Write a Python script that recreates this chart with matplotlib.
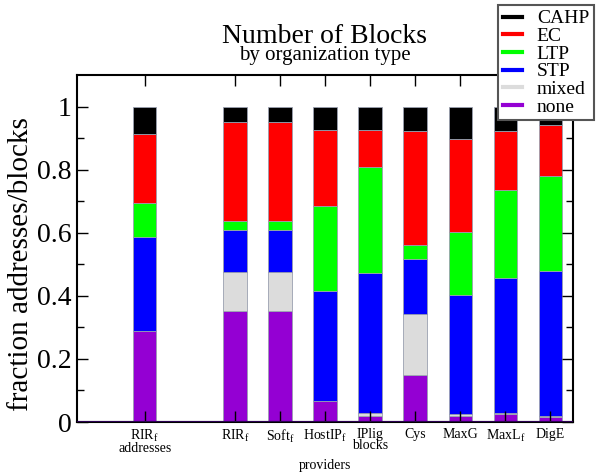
import numpy as np
import matplotlib
matplotlib.use("Agg")
import matplotlib.pyplot as plt

plt.rcParams['font.family'] = ['Liberation Serif', 'DejaVu Serif']
plt.rcParams['mathtext.fontset'] = 'custom'
plt.rcParams['mathtext.rm'] = 'Liberation Serif'
plt.rcParams['mathtext.it'] = 'Liberation Serif:italic'

# categories (bottom to top of each stack)
labels = ['RIR$_\\mathrm{f}$\naddresses', 'RIR$_\\mathrm{f}$', 'Soft$_\\mathrm{f}$',
          'HostIP$_\\mathrm{f}$', 'IPlig\nblocks', 'Cys', 'MaxG',
          'MaxL$_\\mathrm{f}$', 'DigE']
positions = [1, 3, 4, 5, 6, 7, 8, 9, 10]

none_v  = [0.287, 0.352, 0.352, 0.065, 0.020, 0.149, 0.020, 0.025, 0.017]
mixed_v = [0.000, 0.125, 0.125, 0.000, 0.008, 0.193, 0.005, 0.005, 0.003]
stp_v   = [0.301, 0.133, 0.133, 0.349, 0.444, 0.175, 0.378, 0.426, 0.459]
ltp_v   = [0.106, 0.026, 0.026, 0.270, 0.335, 0.045, 0.198, 0.281, 0.302]
ec_v    = [0.219, 0.315, 0.315, 0.242, 0.120, 0.362, 0.296, 0.185, 0.162]
cahp_v  = [0.087, 0.049, 0.049, 0.074, 0.073, 0.076, 0.103, 0.078, 0.057]

series = [('none', none_v, '#9400d3'), ('mixed', mixed_v, '#dcdcdc'),
          ('STP', stp_v, '#0000ff'), ('LTP', ltp_v, '#00ff00'),
          ('EC', ec_v, '#ff0000'), ('CAHP', cahp_v, '#000000')]

fig = plt.figure(figsize=(6.08, 4.72), dpi=100)
ax = fig.add_axes([77/608, 1-422/472, (573-77)/608, (422-75)/472])

bottom = np.zeros(len(positions))
handles = {}
for name, vals, col in series:
    ax.bar(positions, vals, width=0.52, bottom=bottom, color=col,
           edgecolor='#9aa0b0', linewidth=0.6)
    handles[name], = ax.plot([], [], color=col, linewidth=3)
    bottom += np.array(vals)

ax.set_xlim(-0.5, 10.5)
ax.set_ylim(0, 1.1)
ax.set_xticks(positions)
ax.set_xticklabels(labels, fontsize=10, linespacing=0.8)
ax.set_yticks([0, 0.2, 0.4, 0.6, 0.8, 1.0])
ax.set_yticklabels(['0', '0.2', '0.4', '0.6', '0.8', '1'], fontsize=20)
ax.set_yticks(np.arange(0.1, 1.1, 0.2), minor=True)
ax.tick_params(axis='both', which='major', direction='in', length=8,
               width=1, top=True, right=True)
ax.tick_params(axis='x', which='major', pad=4)
ax.tick_params(axis='y', which='major', pad=4)
ax.tick_params(axis='y', which='minor', direction='in', length=5,
               width=1, right=True)
for s in ax.spines.values():
    s.set_linewidth(1.5)
ax.axhline(0, color='#2a0050', linewidth=1.5, zorder=3)

ax.set_ylabel('fraction addresses/blocks', fontsize=21)
ax.yaxis.set_label_coords(-0.087, 0.455)
ax.set_xlabel('providers', fontsize=10, labelpad=3)

fig.text(0.5345, 1-43/472, 'Number of Blocks', ha='center', va='baseline', fontsize=20)
fig.text(0.5345, 1-60/472, 'by organization type', ha='center', va='baseline', fontsize=15)

order = ['CAHP', 'EC', 'LTP', 'STP', 'mixed', 'none']
leg = fig.legend([handles[k] for k in order], order, loc='upper left',
                 bbox_to_anchor=(498/608, 1-5/472), fontsize=14,
                 frameon=True, fancybox=False, framealpha=1,
                 edgecolor='#555555', handlelength=1.0, handletextpad=0.75,
                 labelspacing=0.0, borderpad=0.25, borderaxespad=0)
leg.get_frame().set_linewidth(1.5)

fig.savefig('out.png', dpi=100)
